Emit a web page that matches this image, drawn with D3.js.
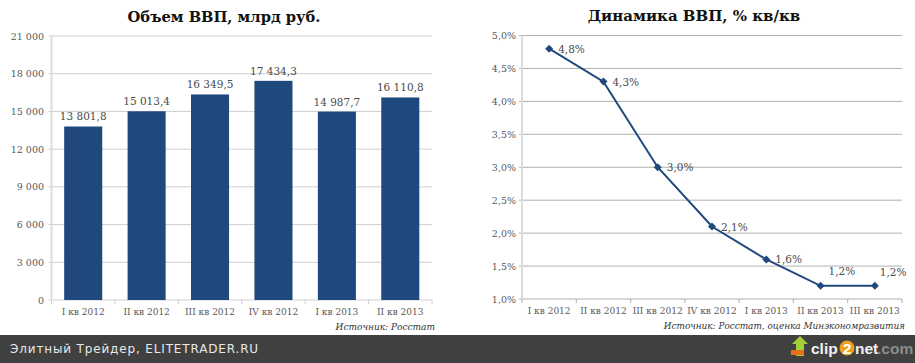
<!DOCTYPE html>
<html>
<head>
<meta charset="utf-8">
<script src="https://cdn.jsdelivr.net/npm/d3@7"></script>
<style>
html, body { margin: 0; padding: 0; background: #fff; }
svg { display: block; font-family: "DejaVu Serif", serif; }
</style>
</head>
<body>
<script>
var barCategories = ["I кв 2012", "II кв 2012", "III кв 2012", "IV кв 2012", "I кв 2013", "II кв 2013"];
var barValues = [13801.8, 15013.4, 16349.5, 17434.3, 14987.7, 16110.8];
var barTicks = [0, 3000, 6000, 9000, 12000, 15000, 18000, 21000];

var lineCategories = ["I кв 2012", "II кв 2012", "III кв 2012", "IV кв 2012", "I кв 2013", "II кв 2013", "III кв 2013"];
var lineValues = [4.8, 4.3, 3.0, 2.1, 1.6, 1.2, 1.2];
var lineTicks = [1.0, 1.5, 2.0, 2.5, 3.0, 3.5, 4.0, 4.5, 5.0];

var width = 915, height = 363;
var blue = "#1f497d", textCol = "#595959";

var svg = d3.select("body").append("svg")
	.attr("width", width)
	.attr("height", height);

svg.append("rect").attr("width", width).attr("height", height).attr("fill", "#fff");

function spaced(v) {
	return d3.format(",")(v).replace(/,/g, " ");
}
function spacedDec(v) {
	return spaced(Math.floor(v)) + "," + Math.round((v - Math.floor(v)) * 10);
}
function pct(v) {
	return v.toFixed(1).replace(".", ",") + "%";
}

// left: bars
var y1 = d3.scaleLinear().domain([0, 21000]).range([300, 36]);
var x1 = d3.scaleBand().domain(barCategories).range([51.5, 432]).paddingInner(0.4).paddingOuter(0.2);

drawFrame(y1, barTicks, spaced, 51.5, 432, lineStep(barCategories.length, 51.5, 432), 44, "#cfcfcf");

svg.selectAll("rect.bar")
	.data(barValues)
	.enter().append("rect")
	.attr("class", "bar")
	.attr("x", function(d, i) { return x1(barCategories[i]); })
	.attr("y", function(d) { return y1(d); })
	.attr("width", x1.bandwidth())
	.attr("height", function(d) { return y1(0) - y1(d); })
	.attr("fill", blue);

svg.selectAll("text.barlabel")
	.data(barValues)
	.enter().append("text")
	.attr("class", "barlabel")
	.attr("x", function(d, i) { return x1(barCategories[i]) + x1.bandwidth() / 2; })
	.attr("y", function(d) { return y1(d) - 6; })
	.attr("text-anchor", "middle")
	.attr("font-size", 10.5)
	.attr("fill", "#4a4a4a")
	.text(spacedDec);

svg.selectAll("text.barcat")
	.data(barCategories)
	.enter().append("text")
	.attr("class", "barcat")
	.attr("x", function(d) { return x1(d) + x1.bandwidth() / 2; })
	.attr("y", 315)
	.attr("text-anchor", "middle")
	.attr("font-size", 9)
	.attr("fill", textCol)
	.text(function(d) { return d; });

// right: line
var y2 = d3.scaleLinear().domain([1, 5]).range([299, 35.5]);
var x2 = d3.scalePoint().domain(lineCategories).range([522, 902]).padding(0.5);

drawFrame(y2, lineTicks, pct, 522, 902, lineStep(lineCategories.length, 522, 902), 516, "#b0b0b0");

var line = d3.line()
	.x(function(d, i) { return x2(lineCategories[i]); })
	.y(function(d) { return y2(d); });

svg.append("path")
	.datum(lineValues)
	.attr("d", line)
	.attr("fill", "none")
	.attr("stroke", blue)
	.attr("stroke-width", 2);

svg.selectAll("path.marker")
	.data(lineValues)
	.enter().append("path")
	.attr("class", "marker")
	.attr("d", d3.symbol().type(d3.symbolSquare).size(32))
	.attr("transform", function(d, i) { return "translate(" + x2(lineCategories[i]) + "," + y2(d) + ") rotate(45)"; })
	.attr("fill", blue);

// last two labels sit above their points, the others to the right
svg.selectAll("text.linelabel")
	.data(lineValues)
	.enter().append("text")
	.attr("class", "linelabel")
	.attr("x", function(d, i) { return x2(lineCategories[i]) + (i < 5 ? 9 : (i == 5 ? 8 : 5)); })
	.attr("y", function(d, i) { return y2(d) + (i < 5 ? 4 : (i == 5 ? -11 : -10)); })
	.attr("font-size", 10.5)
	.attr("fill", "#4a4a4a")
	.text(pct);

svg.selectAll("text.linecat")
	.data(lineCategories)
	.enter().append("text")
	.attr("class", "linecat")
	.attr("x", function(d) { return x2(d); })
	.attr("y", 314)
	.attr("text-anchor", "middle")
	.attr("font-size", 9)
	.attr("fill", textCol)
	.text(function(d) { return d; });

// titles
svg.append("text").attr("x", 224).attr("y", 22).attr("text-anchor", "middle")
	.attr("font-size", 14.7).attr("font-weight", "bold").attr("fill", "#111")
	.text("Объем ВВП, млрд руб.");
svg.append("text").attr("x", 694).attr("y", 21).attr("text-anchor", "middle")
	.attr("font-size", 15).attr("font-weight", "bold").attr("fill", "#111")
	.text("Динамика ВВП, % кв/кв");

// sources
svg.append("text").attr("x", 435).attr("y", 330).attr("text-anchor", "end")
	.attr("font-size", 9).attr("font-style", "italic").attr("fill", "#333")
	.text("Источник: Росстат");
svg.append("text").attr("x", 905).attr("y", 329).attr("text-anchor", "end")
	.attr("font-size", 8.9).attr("font-style", "italic").attr("fill", "#333")
	.text("Источник: Росстат, оценка Минэкономразвития");

// footer strip
svg.append("rect").attr("x", 0).attr("y", 335).attr("width", width).attr("height", 28).attr("fill", "#404040");
svg.append("text").attr("x", 10).attr("y", 352.5)
	.attr("font-family", "'DejaVu Sans', sans-serif")
	.attr("font-size", 12).attr("letter-spacing", 0.85).attr("fill", "#e8e8e8")
	.text("Элитный Трейдер, ELITETRADER.RU");

var logo = svg.append("g").attr("font-family", "'Liberation Sans', sans-serif").attr("font-weight", "bold").attr("font-size", 15.5);
logo.append("path").attr("d", "M796 350 v-6 h-4 l8 -8 l8 8 h-4 v12 h-8 z").attr("fill", "#a5cf3a");
logo.append("rect").attr("x", 791).attr("y", 350).attr("width", 13).attr("height", 5).attr("fill", "#e8701a");
logo.append("text").attr("x", 811).attr("y", 354).attr("fill", "#f2f2f2").text("clip");
logo.append("circle").attr("cx", 847).attr("cy", 348).attr("r", 7.5).attr("fill", "#f0a020");
logo.append("text").attr("x", 847).attr("y", 354).attr("text-anchor", "middle").attr("fill", "#fff").text("2");
logo.append("text").attr("x", 855).attr("y", 354).attr("fill", "#f2f2f2").text("net");
logo.append("text").attr("x", 877).attr("y", 354).attr("fill", "#8c8c8c").text(".com");

function lineStep(n, a, b) {
	return d3.range(n + 1).map(function(i) { return a + (b - a) * i / n; });
}

function drawFrame(y, ticks, fmt, left, right, xticks, labelEnd, grey) {
	var g = svg.append("g");
	g.selectAll("line.grid")
		.data(ticks)
		.enter().append("line")
		.attr("x1", left - 3)
		.attr("x2", right)
		.attr("y1", function(d) { return y(d); })
		.attr("y2", function(d) { return y(d); })
		.attr("stroke", grey);
	g.append("line")
		.attr("x1", left).attr("x2", left)
		.attr("y1", y(ticks[0])).attr("y2", y(ticks[ticks.length - 1]))
		.attr("stroke", "#dcdcdc").attr("stroke-width", 2);
	g.selectAll("line.xtick")
		.data(xticks)
		.enter().append("line")
		.attr("x1", function(d) { return d; })
		.attr("x2", function(d) { return d; })
		.attr("y1", y(ticks[0]))
		.attr("y2", y(ticks[0]) + 4)
		.attr("stroke", grey);
	g.selectAll("text.ylabel")
		.data(ticks)
		.enter().append("text")
		.attr("x", labelEnd)
		.attr("y", function(d) { return y(d) + 3.5; })
		.attr("text-anchor", "end")
		.attr("font-size", 9.5)
		.attr("fill", textCol)
		.text(fmt);
}
</script>
</body>
</html>
